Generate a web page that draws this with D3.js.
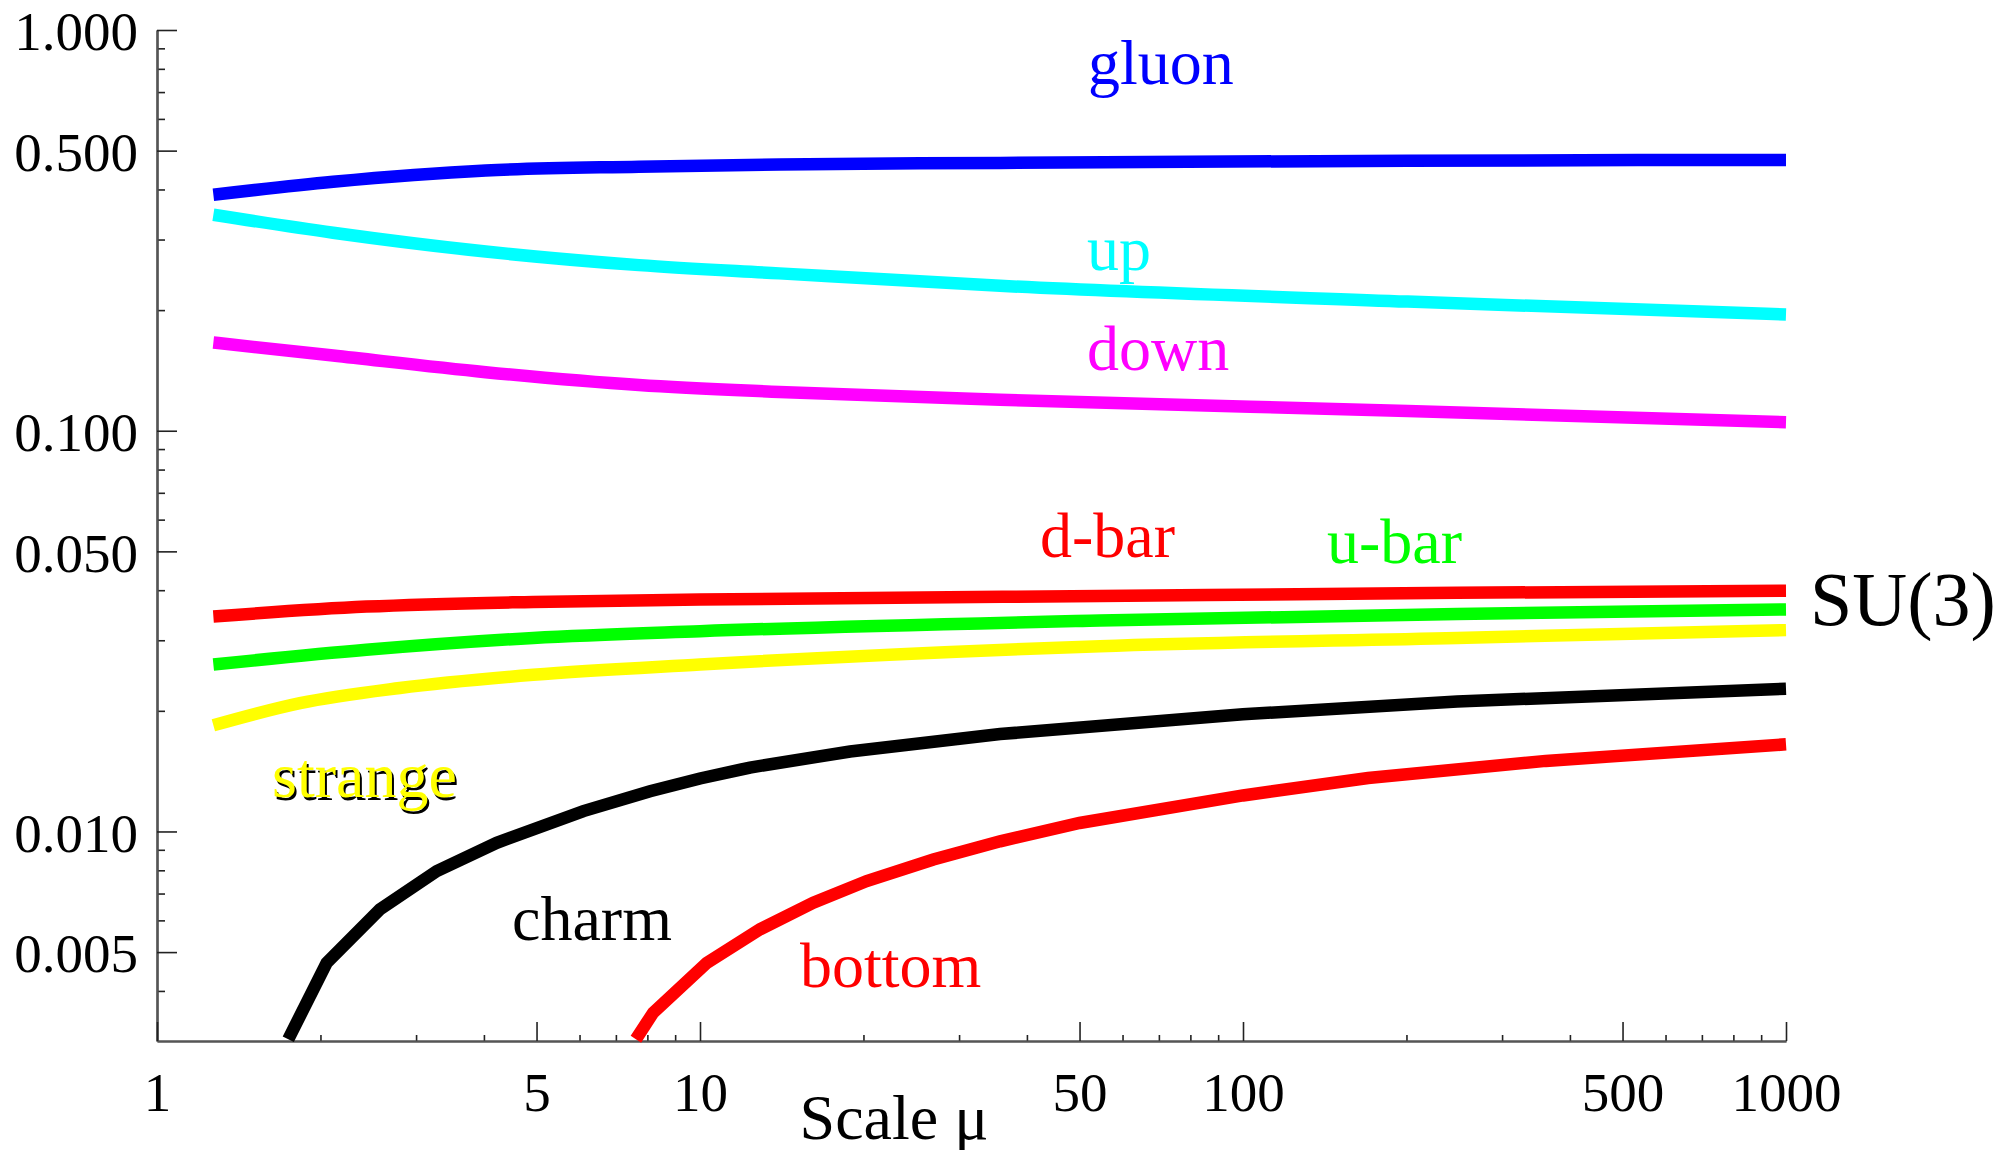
<!DOCTYPE html>
<html>
<head>
<meta charset="utf-8">
<script src="https://cdn.jsdelivr.net/npm/d3@7"></script>
<style>
  html, body { margin: 0; padding: 0; background: #fff; }
  svg { display: block; }
  text { font-family: "Liberation Serif", "Times New Roman", serif; }
</style>
</head>
<body>
<svg id="chart" width="2005" height="1150"></svg>
<script>
// Momentum fractions of the proton's partons versus the scale mu (GeV)

// scale grid for the gluon and valence-like curves
const muMain = [1.27, 2.11, 4.03, 7.72, 14, 35.7, 201, 1000];
const gluon  = [0.388, 0.418, 0.446, 0.456, 0.462, 0.466, 0.472, 0.474];
const up     = [0.346, 0.312, 0.280, 0.259, 0.247, 0.230, 0.210, 0.195];
const down   = [0.166, 0.154, 0.140, 0.130, 0.125, 0.1195, 0.112, 0.105];

// scale grid for the light antiquarks
const muSea = [1.27, 2.43, 4.93, 10, 54.5, 248, 1000];
const dbar  = [0.0344, 0.0364, 0.0374, 0.0379, 0.0387, 0.0394, 0.0399];
const ubar  = [0.0261, 0.0284, 0.0304, 0.0316, 0.0336, 0.0349, 0.0358];

// strange
const muStrange = [1.27, 1.834, 2.80, 4.93, 10, 54.5, 248, 1000];
const strange   = [0.0184, 0.0209, 0.0228, 0.0246, 0.0261, 0.0290, 0.0304, 0.0318];

// charm (switches on above its threshold)
const muCharm = [1.745, 2.053, 2.574, 3.274, 4.223, 6.10, 8.09, 10, 12.36, 18.9, 35.7, 100, 248, 1000];
const charm   = [0.00303, 0.0047, 0.00639, 0.00796, 0.00937, 0.01124, 0.0126, 0.01356, 0.01444, 0.01583, 0.0175, 0.0196, 0.0211, 0.0227];

// bottom (switches on above its threshold)
const muBottom = [7.62, 8.20, 10.29, 12.9, 16.17, 20.28, 26.9, 35.7, 50, 100, 170, 361, 1000];
const bottom   = [0.00303, 0.00353, 0.0047, 0.0057, 0.00664, 0.00752, 0.00851, 0.00945, 0.0105, 0.0123, 0.0136, 0.0150, 0.0165];

// axis ticks
const xMajorTicks = [1, 5, 10, 50, 100, 500, 1000];
const xMinorTicks = [2, 3, 4, 6, 7, 8, 9, 20, 30, 40, 60, 70, 80, 90, 200, 300, 400, 600, 700, 800, 900];
const yMajorTicks = [1, 0.5, 0.1, 0.05, 0.01, 0.005];
const yMinorTicks = [0.9, 0.8, 0.7, 0.6, 0.4, 0.3, 0.2, 0.09, 0.08, 0.07, 0.06, 0.04, 0.03, 0.02,
                     0.009, 0.008, 0.007, 0.006, 0.004];

const xLabel = "Scale \u03bc";

const svg = d3.select("#chart");

const x = d3.scaleLog().domain([1, 1000]).range([157, 1786]);
const y = d3.scaleLog().domain([0.003, 1]).range([1041, 30]);

const serif = '"Liberation Serif", "Times New Roman", serif';

// ---- axes ----
const axisColor = "#555";

const yMajor = d3.axisLeft(y).tickValues(yMajorTicks).tickFormat(d3.format(".3f"))
  .tickSizeInner(-20).tickSizeOuter(0).tickPadding(19);
const yMinor = d3.axisLeft(y).tickValues(yMinorTicks).tickFormat("")
  .tickSizeInner(-8).tickSizeOuter(0);
const xMajor = d3.axisBottom(x).tickValues(xMajorTicks).tickFormat(d3.format("d"))
  .tickSizeInner(-19).tickSizeOuter(0).tickPadding(31);
const xMinor = d3.axisBottom(x).tickValues(xMinorTicks).tickFormat("")
  .tickSizeInner(-6).tickSizeOuter(0);

function styleAxis(g) {
  g.attr("font-family", serif);
  g.select(".domain").attr("stroke", axisColor).attr("stroke-width", 2.2);
  g.selectAll(".tick line").attr("stroke", "#222").attr("stroke-width", 1.6);
  g.selectAll(".tick text").attr("fill", "#000")
    .style("font-family", serif)
    .style("font-size", "55px");
}

svg.append("g").attr("transform", `translate(${x.range()[0]},0)`).call(yMinor).call(styleAxis);
svg.append("g").attr("transform", `translate(${x.range()[0]},0)`).call(yMajor).call(styleAxis)
  .selectAll(".tick text").attr("dy", "0.36em");
svg.append("g").attr("transform", `translate(0,${y.range()[0]})`).call(xMinor).call(styleAxis);
svg.append("g").attr("transform", `translate(0,${y.range()[0]})`).call(xMajor).call(styleAxis);

svg.append("text")
  .attr("x", 894).attr("y", 1139)
  .attr("text-anchor", "middle")
  .style("font-family", serif)
  .style("font-size", "64px")
  .text(xLabel);

// ---- curves ----
const smooth = d3.line().x(d => x(d[0])).y(d => y(d[1])).curve(d3.curveMonotoneX);
const straight = d3.line().x(d => x(d[0])).y(d => y(d[1])).curve(d3.curveLinear);

const series = [
  { mu: muMain,    v: gluon,   color: "#0000ff", gen: smooth },
  { mu: muMain,    v: up,      color: "#00ffff", gen: smooth },
  { mu: muMain,    v: down,    color: "#ff00ff", gen: smooth },
  { mu: muSea,     v: dbar,    color: "#ff0000", gen: smooth },
  { mu: muSea,     v: ubar,    color: "#00ff00", gen: smooth },
  { mu: muStrange, v: strange, color: "#ffff00", gen: smooth },
  { mu: muCharm,   v: charm,   color: "#000000", gen: straight },
  { mu: muBottom,  v: bottom,  color: "#ff0000", gen: straight }
];

svg.append("g").selectAll("path")
  .data(series)
  .join("path")
  .attr("d", s => s.gen(s.mu.map((m, i) => [m, s.v[i]])))
  .attr("fill", "none")
  .attr("stroke", s => s.color)
  .attr("stroke-width", 12.5)
  .attr("stroke-linecap", "butt")
  .attr("stroke-linejoin", "miter");

// ---- curve names ----
const names = [
  { t: "gluon",  x: 1088, y: 84,  c: "#0000ff" },
  { t: "up",     x: 1087, y: 270, c: "#00ffff" },
  { t: "down",   x: 1087, y: 370, c: "#ff00ff" },
  { t: "d-bar",  x: 1040, y: 557, c: "#ff0000" },
  { t: "u-bar",  x: 1327, y: 563, c: "#00ff00" },
  { t: "charm",  x: 512,  y: 940, c: "#000000" },
  { t: "bottom", x: 800,  y: 987, c: "#ff0000" }
];

svg.append("g").selectAll("text")
  .data(names)
  .join("text")
  .attr("x", d => d.x).attr("y", d => d.y)
  .attr("fill", d => d.c)
  .style("font-family", serif)
  .style("font-size", "64px")
  .text(d => d.t);

// "strange" is yellow with a dark drop shadow
svg.append("text").attr("x", 274).attr("y", 800)
  .attr("fill", "#000").style("font-family", serif).style("font-size", "64px").text("strange");
svg.append("text").attr("x", 272).attr("y", 797)
  .attr("fill", "#ffff00").style("font-family", serif).style("font-size", "64px").text("strange");

svg.append("text").attr("x", 1810).attr("y", 625)
  .attr("fill", "#000").style("font-family", serif).style("font-size", "76px").text("SU(3)");
</script>
</body>
</html>
